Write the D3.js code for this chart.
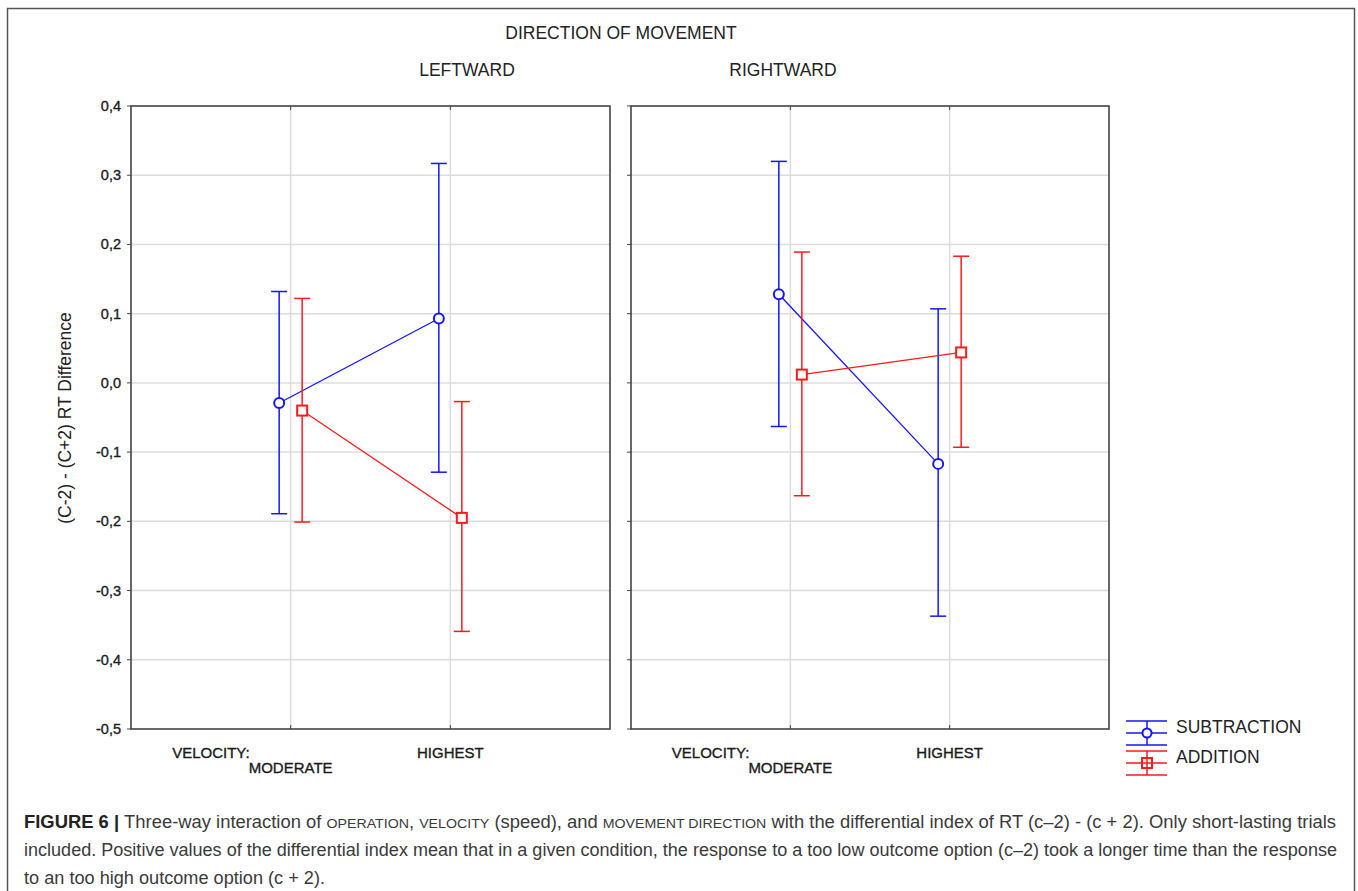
<!DOCTYPE html>
<html>
<head>
<meta charset="utf-8">
<script src="https://cdn.jsdelivr.net/npm/d3@7"></script>
<style>
  body { margin: 0; background: #fff; }
  svg { display: block; font-family: "Liberation Sans", Arial, sans-serif; }
  .lab { fill: #1a1a1a; stroke: #1a1a1a; stroke-width: 0.35px; }
</style>
</head>
<body>
<svg width="1358" height="891"></svg>
<script>
  // values, [direction][velocity]
  const directions = ['LEFTWARD', 'RIGHTWARD'];
  const velocities = ['MODERATE', 'HIGHEST'];
  const yTicks = [0.4, 0.3, 0.2, 0.1, 0.0, -0.1, -0.2, -0.3, -0.4, -0.5];
  const subtractionMean  = [[-0.029, 0.093], [0.128, -0.117]];
  const subtractionUpper = [[0.132, 0.317], [0.320, 0.107]];
  const subtractionLower = [[-0.189, -0.129], [-0.063, -0.337]];
  const additionMean  = [[-0.040, -0.195], [0.012, 0.044]];
  const additionUpper = [[0.122, -0.027], [0.189, 0.183]];
  const additionLower = [[-0.201, -0.359], [-0.163, -0.093]];

  const svg = d3.select('svg');
  const blue = '#1414ff', red = '#ff1a1a';

  // outer figure frame
  svg.append('rect')
    .attr('x', 7.5).attr('y', 8.5).attr('width', 1347).attr('height', 900)
    .attr('fill', 'none').attr('stroke', '#555').attr('stroke-width', 1.5);

  const yTop = 106, yBottom = 729;
  const panels = [{ x0: 131, x1: 610 }, { x0: 631, x1: 1109 }];
  const y = d3.scaleLinear().domain([-0.5, 0.4]).range([yBottom, yTop]);
  const fmt = v => d3.format('.1f')(v).replace('.', ',').replace('−', '-');

  const series = [
    { name: 'SUBTRACTION', color: blue, mean: subtractionMean, up: subtractionUpper, lo: subtractionLower, dx: -11.5, shape: 'circle' },
    { name: 'ADDITION', color: red, mean: additionMean, up: additionUpper, lo: additionLower, dx: 11.5, shape: 'square' }
  ];

  panels.forEach((p, pi) => {
    const x = d3.scalePoint().domain(velocities).range([p.x0, p.x1]).padding(1);
    const g = svg.append('g');

    // grid
    g.selectAll('.hg').data(yTicks.slice(1, -1)).enter().append('line')
      .attr('x1', p.x0).attr('x2', p.x1)
      .attr('y1', d => y(d)).attr('y2', d => y(d))
      .attr('stroke', '#dcdcdc').attr('stroke-width', 1.5);
    g.selectAll('.vg').data(velocities).enter().append('line')
      .attr('x1', d => x(d)).attr('x2', d => x(d))
      .attr('y1', yTop).attr('y2', yBottom)
      .attr('stroke', '#dcdcdc').attr('stroke-width', 1.5);

    // y axis ticks (outside)
    g.selectAll('.yt').data(yTicks).enter().append('line')
      .attr('x1', p.x0 - 4).attr('x2', p.x0)
      .attr('y1', d => y(d)).attr('y2', d => y(d))
      .attr('stroke', '#444').attr('stroke-width', 1);
    // category ticks top/bottom (inside)
    velocities.forEach(v => {
      g.append('line').attr('x1', x(v)).attr('x2', x(v)).attr('y1', yTop).attr('y2', yTop + 4).attr('stroke', '#444');
      g.append('line').attr('x1', x(v)).attr('x2', x(v)).attr('y1', yBottom).attr('y2', yBottom - 4).attr('stroke', '#444');
    });

    if (pi === 0) {
      g.selectAll('.yl').data(yTicks).enter().append('text')
        .attr('class', 'lab')
        .attr('x', p.x0 - 10).attr('y', d => y(d) + 5)
        .attr('text-anchor', 'end').attr('font-size', 14.5)
        .text(fmt);
    }

    // x labels
    g.append('text').attr('class', 'lab').attr('x', x('MODERATE') - 41).attr('y', 758)
      .attr('text-anchor', 'end').attr('font-size', 15).text('VELOCITY:');
    g.append('text').attr('class', 'lab').attr('x', x('MODERATE')).attr('y', 773)
      .attr('text-anchor', 'middle').attr('font-size', 15).text('MODERATE');
    g.append('text').attr('class', 'lab').attr('x', x('HIGHEST')).attr('y', 758)
      .attr('text-anchor', 'middle').attr('font-size', 15).text('HIGHEST');

    // series
    series.forEach(s => {
      const pts = velocities.map((v, i) => ({
        x: x(v) + s.dx, m: s.mean[pi][i], u: s.up[pi][i], l: s.lo[pi][i]
      }));
      g.append('path')
        .attr('d', d3.line().x(d => d.x).y(d => y(d.m))(pts))
        .attr('fill', 'none').attr('stroke', s.color).attr('stroke-width', 1.3);
      pts.forEach(d => {
        g.append('line').attr('x1', d.x).attr('x2', d.x).attr('y1', y(d.u)).attr('y2', y(d.l))
          .attr('stroke', s.color).attr('stroke-width', 1.5);
        [d.u, d.l].forEach(c => {
          g.append('line').attr('x1', d.x - 8).attr('x2', d.x + 8).attr('y1', y(c)).attr('y2', y(c))
            .attr('stroke', s.color).attr('stroke-width', 1.5);
        });
        if (s.shape === 'circle') {
          g.append('circle').attr('cx', d.x).attr('cy', y(d.m)).attr('r', 5)
            .attr('fill', '#fff').attr('stroke', s.color).attr('stroke-width', 2);
        } else {
          g.append('rect').attr('x', d.x - 5).attr('y', y(d.m) - 5).attr('width', 10).attr('height', 10)
            .attr('fill', '#fff').attr('stroke', s.color).attr('stroke-width', 2);
        }
      });
    });

    // frame
    g.append('rect').attr('x', p.x0).attr('y', yTop)
      .attr('width', p.x1 - p.x0).attr('height', yBottom - yTop)
      .attr('fill', 'none').attr('stroke', '#444').attr('stroke-width', 1.6);
  });

  // titles
  svg.append('text').attr('x', 621).attr('y', 39).attr('text-anchor', 'middle')
    .attr('font-size', 17.5).attr('fill', '#222').text('DIRECTION OF MOVEMENT');
  svg.append('text').attr('x', 467).attr('y', 76).attr('text-anchor', 'middle')
    .attr('font-size', 17.5).attr('fill', '#222').text(directions[0]);
  svg.append('text').attr('x', 783).attr('y', 76).attr('text-anchor', 'middle')
    .attr('font-size', 17.5).attr('fill', '#222').text(directions[1]);

  // y axis title
  svg.append('text')
    .attr('transform', 'translate(71,418) rotate(-90)')
    .attr('text-anchor', 'middle').attr('font-size', 17.5).attr('fill', '#222')
    .text('(C-2) - (C+2) RT Difference');

  // legend
  series.forEach((s, i) => {
    const cy = 733 + i * 30, lg = svg.append('g');
    [-12, 0, 12].forEach(o => lg.append('line').attr('x1', 1126).attr('x2', 1167)
      .attr('y1', cy + o).attr('y2', cy + o).attr('stroke', s.color).attr('stroke-width', 1.5));
    lg.append('line').attr('x1', 1147).attr('x2', 1147).attr('y1', cy - 12).attr('y2', cy + 12)
      .attr('stroke', s.color).attr('stroke-width', 1.5);
    if (s.shape === 'circle') {
      lg.append('circle').attr('cx', 1147).attr('cy', cy).attr('r', 4.5)
        .attr('fill', '#fff').attr('stroke', s.color).attr('stroke-width', 2);
    } else {
      lg.append('rect').attr('x', 1142).attr('y', cy - 5).attr('width', 10).attr('height', 10)
        .attr('fill', 'none').attr('stroke', s.color).attr('stroke-width', 2);
    }
    lg.append('text').attr('x', 1176).attr('y', cy).attr('font-size', 17.5).attr('fill', '#222')
      .text(s.name);
  });

  // caption
  const capLines = [
    [['b', 'FIGURE 6 | '], ['n', 'Three-way interaction of '], ['s', 'OPERATION'], ['n', ', '], ['s', 'VELOCITY'],
     ['n', ' (speed), and '], ['s', 'MOVEMENT DIRECTION'], ['n', ' with the differential index of RT (c–2) - (c + 2). Only short-lasting trials']],
    [['n', 'included. Positive values of the differential index mean that in a given condition, the response to a too low outcome option (c–2) took a longer time than the response']],
    [['n', 'to an too high outcome option (c + 2).']]
  ];
  const capY = [828, 856, 884];
  const capLen = [1312, 1313, 301];
  capLines.forEach((line, i) => {
    const t = svg.append('text').attr('x', 24).attr('y', capY[i]).attr('font-size', 17.5).attr('fill', '#3a3a3a');
    line.forEach(([k, str]) => {
      const ts = t.append('tspan').text(str);
      if (k === 'b') ts.attr('font-weight', 'bold').attr('fill', '#222');
      if (k === 's') ts.attr('font-size', 13.5);
    });
    t.attr('textLength', capLen[i]).attr('lengthAdjust', 'spacingAndGlyphs');
  });
</script>
</body>
</html>
